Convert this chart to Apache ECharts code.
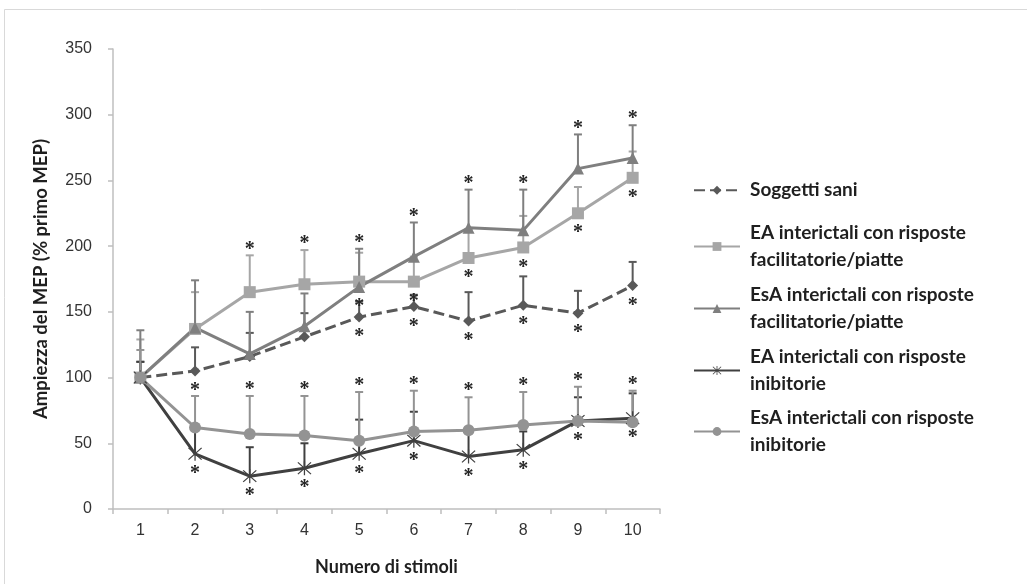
<!DOCTYPE html>
<html>
<head>
<meta charset="utf-8">
<script src="https://cdn.jsdelivr.net/npm/echarts@6/dist/echarts.min.js"></script>
<style>
  html, body { margin: 0; padding: 0; background: #ffffff; }
  #chart { width: 1027px; height: 584px; }
</style>
</head>
<body>
<div id="chart"></div>
<script>
// Stimulus number (x axis categories)
const stimuli = ['1', '2', '3', '4', '5', '6', '7', '8', '9', '10'];
const yTicks = [0, 50, 100, 150, 200, 250, 300, 350];

// Series names
const nameSani = 'Soggetti sani';
const nameEaFac = 'EA interictali con risposte\nfacilitatorie/piatte';
const nameEsaFac = 'EsA interictali con risposte\nfacilitatorie/piatte';
const nameEaIni = 'EA interictali con risposte\ninibitorie';
const nameEsaIni = 'EsA interictali con risposte\ninibitorie';

// MEP amplitude (% of first MEP), mean values
const saniMean   = [100, 105, 116, 131, 146, 154, 143, 155, 149, 170];
const eaFacMean  = [100, 137, 165, 171, 173, 173, 191, 199, 225, 252];
const esaFacMean = [100, 138, 118, 139, 169, 192, 214, 212, 259, 267];
const eaIniMean  = [100, 42, 25, 31, 42, 52, 40, 45, 67, 69];
const esaIniMean = [100, 62, 57, 56, 52, 59, 60, 64, 67, 66];

// Upper error bars (SD)
const saniErr   = [12, 18, 18, 18, 12, 9, 22, 22, 17, 18];
const eaFacErr  = [29, 28, 28, 26, 22, 19, 22, 24, 20, 20];
const esaFacErr = [36, 36, 32, 25, 29, 26, 29, 31, 26, 25];
const eaIniErr  = [12, 18, 22, 19, 26, 22, 18, 14, 18, 19];
const esaIniErr = [21, 24, 29, 30, 37, 31, 25, 25, 26, 24];

// Significance marks (*): 1 = marked; "above" sits over the error bar, "below" under the point
const saniSigBelow   = [0, 1, 0, 0, 1, 1, 1, 1, 1, 1];
const eaFacSigAbove  = [0, 0, 1, 1, 0, 0, 0, 0, 0, 0];
const eaFacSigBelow  = [0, 0, 0, 0, 0, 1, 1, 1, 1, 1];
const esaFacSigAbove = [0, 0, 0, 0, 1, 1, 1, 1, 1, 1];
const esaFacSigBelow = [0, 0, 0, 0, 1, 0, 0, 0, 0, 0];
const eaIniSigBelow  = [0, 1, 1, 1, 1, 1, 1, 1, 1, 1];
const esaIniSigAbove = [0, 0, 1, 1, 1, 1, 1, 1, 1, 1];

const C_SANI = '#595959';
const C_EAFAC = '#A6A6A6';
const C_ESAFAC = '#7F7F7F';
const C_EAINI = '#404040';
const C_ESAINI = '#939393';

// asterisk-shaped marker (vertical bar + X)
const starPath = 'path://M9.2 0L10.8 0L10.8 20L9.2 20Z M1.1 2.2L2.2 1.1L18.9 17.8L17.8 18.9Z M17.8 1.1L18.9 2.2L2.2 18.9L1.1 17.8Z';

function lineSeries(name, data, color, symbol, size, dashed) {
  return {
    name: name,
    type: 'line',
    data: data,
    symbol: symbol,
    symbolSize: size,
    z: 3,
    lineStyle: { color: color, width: 3, type: dashed ? [11, 5] : 'solid' },
    itemStyle: { color: color, borderWidth: 0 },
    emphasis: { disabled: true },
    animation: false
  };
}

function errorSeries(mean, err, color) {
  return {
    type: 'custom',
    z: 2,
    silent: true,
    animation: false,
    data: mean.map((m, i) => [i, m, err[i]]),
    renderItem: function (params, api) {
      const i = api.value(0), m = api.value(1), e = api.value(2);
      const p0 = api.coord([i, m]);
      const p1 = api.coord([i, m + e]);
      const st = { stroke: color, lineWidth: 2 };
      return {
        type: 'group',
        children: [
          { type: 'line', shape: { x1: p0[0], y1: p0[1], x2: p1[0], y2: p1[1] }, style: st },
          { type: 'line', shape: { x1: p1[0] - 4, y1: p1[1], x2: p1[0] + 4, y2: p1[1] }, style: st }
        ]
      };
    }
  };
}

// asterisks: above the error bar top or below the mean point
function sigSeries(mean, err, above, below) {
  const data = [];
  mean.forEach((m, i) => {
    if (above && above[i]) data.push([i, m + err[i], -1]);
    if (below && below[i]) data.push([i, m, 1]);
  });
  return {
    type: 'custom',
    z: 5,
    silent: true,
    animation: false,
    data: data,
    renderItem: function (params, api) {
      const i = api.value(0), v = api.value(1), dir = api.value(2);
      const p = api.coord([i, v]);
      const dy = dir < 0 ? -6 : 20;
      return {
        type: 'text',
        style: {
          text: '*',
          x: p[0],
          y: p[1] + dy,
          align: 'center',
          verticalAlign: 'middle',
          font: 'bold 20px "Liberation Serif"',
          fill: '#262626'
        }
      };
    }
  };
}

const chart = echarts.init(document.getElementById('chart'), null, { renderer: 'canvas' });

const legendNames = [nameSani, nameEaFac, nameEsaFac, nameEaIni, nameEsaIni];
const legendTops = [172, 215, 277, 339, 400];

chart.setOption({
  backgroundColor: '#ffffff',
  animation: false,
  graphic: [{
    type: 'rect',
    shape: { x: 4.5, y: 9.5, width: 1100, height: 700 },
    style: { fill: 'none', stroke: '#D9D9D9', lineWidth: 1 },
    silent: true
  }],
  legend: legendNames.map((n, k) => ({
    data: [n],
    orient: 'vertical',
    left: 688,
    top: legendTops[k],
    itemWidth: 46,
    itemHeight: 11,
    selectedMode: false,
    textStyle: {
      fontFamily: 'Lato',
      fontWeight: 'bold',
      fontSize: 19,
      lineHeight: 26.5,
      color: '#1F1F1F',
      padding: [0, 0, 0, 5]
    }
  })),
  grid: { left: 113, right: 367, top: 49, bottom: 75, containLabel: false },
  xAxis: {
    type: 'category',
    data: stimuli,
    boundaryGap: true,
    name: 'Numero di stimoli',
    nameLocation: 'middle',
    nameGap: 49,
    nameTextStyle: { fontFamily: 'Lato', fontWeight: 'bold', fontSize: 18, color: '#1F1F1F' },
    axisLine: { lineStyle: { color: '#BFBFBF', width: 1.5 } },
    axisTick: { show: true, alignWithLabel: false, length: 5, lineStyle: { color: '#BFBFBF', width: 1.5 } },
    axisLabel: { fontFamily: 'Liberation Sans', fontSize: 16, color: '#333333', margin: 14 },
    splitLine: { show: false }
  },
  yAxis: {
    type: 'value',
    min: yTicks[0],
    max: yTicks[yTicks.length - 1],
    interval: yTicks[1] - yTicks[0],
    name: 'Ampiezza del MEP (% primo MEP)',
    nameLocation: 'middle',
    nameRotate: 90,
    nameGap: 62,
    nameTextStyle: { fontFamily: 'Lato', fontWeight: 'bold', fontSize: 18.5, color: '#1F1F1F' },
    axisLine: { show: true, lineStyle: { color: '#BFBFBF', width: 1.5 } },
    axisTick: { show: true, length: 5, lineStyle: { color: '#BFBFBF', width: 1.5 } },
    axisLabel: { fontFamily: 'Liberation Sans', fontSize: 16, color: '#333333', margin: 21 },
    splitLine: { show: false }
  },
  series: [
    lineSeries(nameSani, saniMean, C_SANI, 'diamond', 11, true),
    lineSeries(nameEaFac, eaFacMean, C_EAFAC, 'rect', 12, false),
    lineSeries(nameEsaFac, esaFacMean, C_ESAFAC, 'triangle', 12, false),
    lineSeries(nameEaIni, eaIniMean, C_EAINI, starPath, 14, false),
    lineSeries(nameEsaIni, esaIniMean, C_ESAINI, 'circle', 12, false),
    errorSeries(saniMean, saniErr, C_SANI),
    errorSeries(eaFacMean, eaFacErr, C_EAFAC),
    errorSeries(esaFacMean, esaFacErr, C_ESAFAC),
    errorSeries(eaIniMean, eaIniErr, C_EAINI),
    errorSeries(esaIniMean, esaIniErr, C_ESAINI),
    sigSeries(saniMean, saniErr, null, saniSigBelow),
    sigSeries(eaFacMean, eaFacErr, eaFacSigAbove, eaFacSigBelow),
    sigSeries(esaFacMean, esaFacErr, esaFacSigAbove, esaFacSigBelow),
    sigSeries(eaIniMean, eaIniErr, null, eaIniSigBelow),
    sigSeries(esaIniMean, esaIniErr, esaIniSigAbove, null)
  ]
});
</script>
</body>
</html>
